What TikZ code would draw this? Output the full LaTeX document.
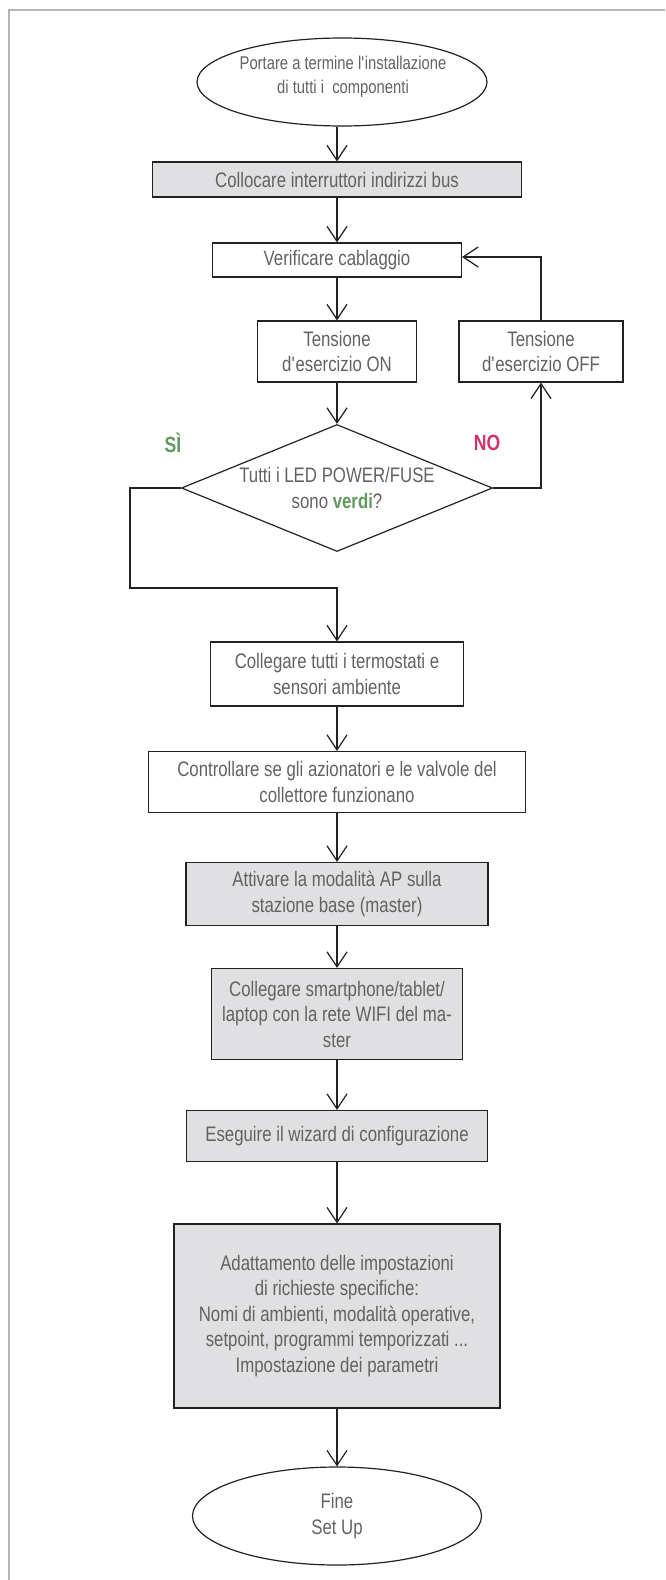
\documentclass[tikz,border=0pt]{standalone}
\usepackage{fontspec}
\setmainfont[FakeStretch=0.80]{Liberation Sans}
\usetikzlibrary{shapes.geometric,arrows.meta}
\definecolor{txtgray}{HTML}{626262}
\definecolor{linec}{HTML}{222222}
\definecolor{boxfill}{HTML}{E0E0E2}
\definecolor{framec}{HTML}{B4B4B4}
\definecolor{yesgreen}{HTML}{5F9A5F}
\definecolor{nomag}{HTML}{D42F6E}
\tikzset{
  base/.style={draw=linec, line width=1.2pt, inner sep=0pt, align=center,
    text=txtgray, font=\fontsize{21}{25.5}\selectfont},
  wbox/.style={base, rectangle},
  gbox/.style={base, rectangle, fill=boxfill},
  oval/.style={base, ellipse},
  dia/.style={base, diamond},
  txt/.style={inner sep=0pt, align=center, text=txtgray, font=\fontsize{21}{25.5}\selectfont},
  arr/.style={draw=linec, line width=1.2pt, -{Straight Barb[length=15pt,width=20pt,line width=1.2pt]}},
  lbl/.style={inner sep=0pt, font=\fontsize{22}{24}\selectfont\bfseries}
}
\begin{document}
\begin{tikzpicture}[x=1pt,y=-1pt]
\useasboundingbox (0,0) rectangle (665,1580);
\draw[framec, line width=2.5pt] (9,1580) -- (9,10) -- (665,10);

\node[oval, minimum width=290pt, minimum height=88pt] (start) at (342,82) {};
\node[txt, font=\fontsize{18.5}{24}\selectfont] (starttxt) at (343,77) {Portare a termine l\textquotesingle installazione\\di tutti i \ componenti};

\node[gbox, minimum width=369pt, minimum height=35pt] (b1) at (337,179.5) {Collocare interruttori indirizzi bus};
\node[wbox, minimum width=249pt, minimum height=34pt] (verif) at (337,260) {Verificare cablaggio};
\node[wbox, minimum width=159pt, minimum height=61pt] (on) at (337,351.5) {Tensione\\d\textquotesingle esercizio ON};
\node[wbox, minimum width=164pt, minimum height=61pt] (off) at (541,351.5) {Tensione\\d\textquotesingle esercizio OFF};
\node[dia, minimum width=311pt, minimum height=127pt] (dec) at (337,488) {};
\node[txt] (dectxt) at (dec) {Tutti i LED POWER/FUSE\\sono \textcolor{yesgreen}{\bfseries verdi}?};
\node[lbl, text=yesgreen] (si) at (173,443) {SÌ};
\node[lbl, text=nomag] (no) at (487,443) {NO};
\coordinate (sibend) at (130,588);

\node[wbox, minimum width=253pt, minimum height=64pt] (coll1) at (337,674) {Collegare tutti i termostati e\\sensori ambiente};
\node[wbox, minimum width=377pt, minimum height=61pt] (ctrl) at (337,782) {Controllare se gli azionatori e le valvole del\\collettore funzionano};
\node[gbox, minimum width=302pt, minimum height=63pt] (attiv) at (337,894) {Attivare la modalità AP sulla\\stazione base (master)};
\node[gbox, minimum width=251pt, minimum height=91pt] (smart) at (337,1014) {Collegare smartphone/tablet/\\laptop con la rete WIFI del ma-\\ster};
\node[gbox, minimum width=301pt, minimum height=51pt] (eseg) at (337,1136) {Eseguire il wizard di configurazione};
\node[gbox, minimum width=326pt, minimum height=184pt] (adatt) at (337,1316) {Adattamento delle impostazioni\\di richieste specifiche:\\Nomi di ambienti, modalità operative,\\setpoint, programmi temporizzati ...\\Impostazione dei parametri};
\node[oval, minimum width=289pt, minimum height=98pt] (fine) at (337,1516) {};
\node[txt] (finetxt) at (fine) {Fine\\Set Up};

\draw[arr] (start.south -| b1.north) -- (b1.north);
\draw[arr] (b1) -- (verif);
\draw[arr] (verif) -- (on);
\draw[arr] (on) -- (dec.north);
\draw[arr] (dec.east) -| (off.south);
\draw[arr] (off.north) |- ([yshift=3pt]verif.east);
\draw[arr] (dec.west) -| (sibend) -| (coll1.north);
\draw[arr] (coll1) -- (ctrl);
\draw[arr] (ctrl) -- (attiv);
\draw[arr] (attiv) -- (smart);
\draw[arr] (smart) -- (eseg);
\draw[arr] (eseg) -- (adatt);
\draw[arr] (adatt) -- (fine.north);
\end{tikzpicture}
\end{document}
